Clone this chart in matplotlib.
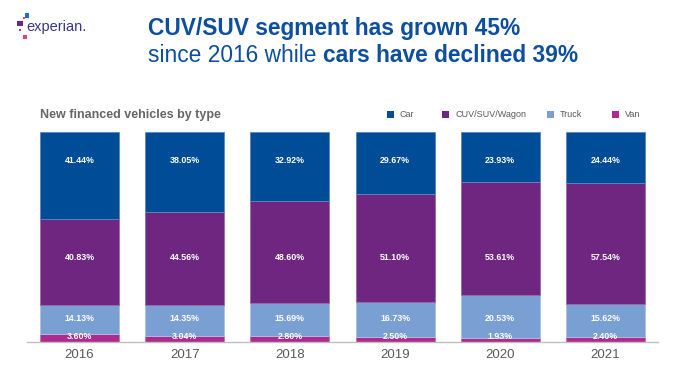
import matplotlib
matplotlib.use("Agg")
import matplotlib.pyplot as plt
from matplotlib.patches import Rectangle
import numpy as np

plt.rcParams['font.family'] = ['Liberation Sans', 'DejaVu Sans']

years = ["2016", "2017", "2018", "2019", "2020", "2021"]
van = [3.60, 3.04, 2.80, 2.50, 1.93, 2.40]
truck = [14.13, 14.35, 15.69, 16.73, 20.53, 15.62]
cuv = [40.83, 44.56, 48.60, 51.10, 53.61, 57.54]
car = [41.44, 38.05, 32.92, 29.67, 23.93, 24.44]

series_names = ["Van", "Truck", "CUV/SUV/Wagon", "Car"]
series_vals = [van, truck, cuv, car]
colors = ["#AE2A8D", "#7A9FD3", "#6E2680", "#004C97"]
edges = ["#C873B3", "#A9C2E6", "#9A6AA8", "#5A87C0"]
label_y = [2.4, 11.4, 40.0, 86.2]  # fixed label heights as in reference

fig = plt.figure(figsize=(6.84, 3.8), dpi=100)
ax = fig.add_axes([27/684, 38/380, 631/684, 210/380])

x = np.arange(len(years))
bottom = np.zeros(len(years))
for name, vals, c, ec in zip(series_names, series_vals, colors, edges):
    ax.bar(x, vals, 0.75, bottom=bottom, color=c, edgecolor=ec, linewidth=0.6, label=name, zorder=2)
    bottom = bottom + np.array(vals)

for vals, ly in zip(series_vals, label_y):
    for xi, v in zip(x, vals):
        ax.text(xi, ly, f"{v:.2f}%", ha="center", va="center", color="white",
                fontsize=6.4, fontweight="bold", zorder=3)

ax.set_xlim(-0.5, len(years) - 0.5)
ax.set_ylim(0, 100)
ax.set_xticks(x)
ax.set_xticklabels(years, fontsize=9.5, color="#595959")
ax.tick_params(axis="x", length=0, pad=5)
ax.set_yticks([])
for s in ["top", "right", "left"]:
    ax.spines[s].set_visible(False)
ax.spines["bottom"].set_color("#BFBFBF")
ax.spines["bottom"].set_linewidth(1.0)

# legend (order Car, CUV, Truck, Van)
leg_items = [("Car", "#004C97", 387), ("CUV/SUV/Wagon", "#6E2680", 442), ("Truck", "#7A9FD3", 547), ("Van", "#AE2A8D", 612)]
for name, c, px in leg_items:
    fig.patches.append(Rectangle((px/684, (380-118)/380), 7/684, 7/380, transform=fig.transFigure,
                                 facecolor=c, edgecolor="none"))
    fig.text((px + 13)/684, (380-114.5)/380, name, fontsize=6.5, color="#595959", va="center", ha="left")

# subtitle
fig.text(40/684, (380-115)/380, "New financed vehicles by type", fontsize=9, fontweight="bold",
         color="#666666", va="center", ha="left")

# title
tc = "#0B4F9E"
fs = 16.4
fig.text(148/684, (380-28)/380, "CUV/SUV segment has grown 45%", fontsize=fs, fontweight="bold",
         color=tc, va="center", ha="left")
t1 = fig.text(148/684, (380-56)/380, "since 2016 while ", fontsize=fs, color=tc, va="center", ha="left")
fig.canvas.draw()
bb = t1.get_window_extent(renderer=fig.canvas.get_renderer())
fig.text(bb.x1/684, (380-56)/380, "cars have declined 39%", fontsize=fs, fontweight="bold",
         color=tc, va="center", ha="left")

# logo
logo_sq = [(24.7, 13.3, 4.5, 4.2, "#1F6FC5"), (17.3, 20.7, 5.5, 5.5, "#6E2680"), (22.7, 16.7, 2, 2, "#E0408A"),
           (18.7, 28.7, 2, 2, "#B5338F"), (23.3, 34.7, 4, 4, "#E0408A")]
for lx, ly, w, h, c in logo_sq:
    fig.patches.append(Rectangle((lx/684, (380-ly-h)/380), w/684, h/380, transform=fig.transFigure,
                                 facecolor=c, edgecolor="none"))
fig.text(26/684, (380-31)/380, "experian.", fontsize=10.5, color="#33388C", va="baseline", ha="left")

fig.savefig("out.png", dpi=100)
